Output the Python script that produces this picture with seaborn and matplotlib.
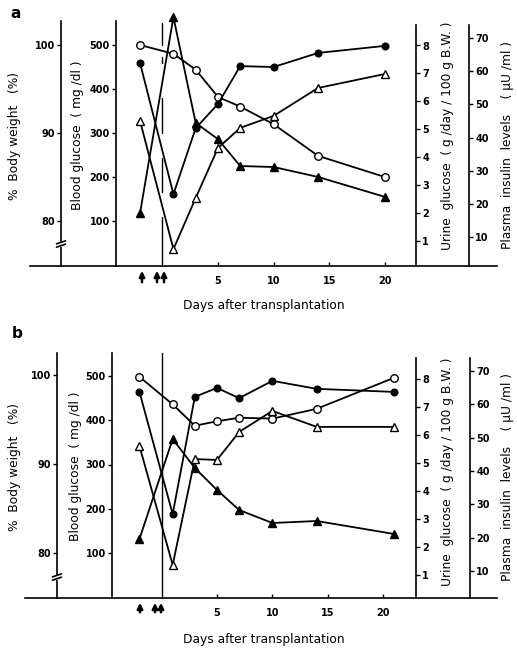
import numpy as np
import pandas as pd
import matplotlib
matplotlib.use("Agg")
import matplotlib.pyplot as plt
from matplotlib.patches import FancyArrowPatch
import seaborn as sns

sns.set_theme(style="ticks")
plt.rcParams["font.family"] = ["DejaVu Sans"]

# Days after transplantation
days_a = [-2, 1, 3, 5, 7, 10, 14, 20]
days_b = [-2, 1, 3, 5, 7, 10, 14, 21]

# Panel a
weight_a = [100.0, 99.0, 97.2, 94.1, 93.0, 91.0, 87.4, 85.0]      # % body weight (open circles)
glucose_a = [459, 161, 311, 366, 452, 450, 482, 498]               # blood glucose mg/dl (filled circles)
urine_a = [5.30, 0.71, 2.54, 4.33, 5.05, 5.48, 6.48, 6.98]         # urine glucose (open triangles)
insulin_a = [17.2, 76.3, 44.4, 39.5, 31.4, 31.1, 28.1, 22.1]       # plasma insulin (filled triangles)

# Panel b
weight_b = [99.8, 96.7, 94.3, 94.8, 95.2, 95.1, 96.2, 99.7]
glucose_b = [464, 188, 453, 473, 450, 489, 471, 464]
urine_b = [5.61, 1.36, 5.14, 5.11, 6.11, 6.86, 6.29, 6.29]
insulin_b = [19.6, 49.6, 40.9, 34.3, 28.3, 24.4, 25.0, 21.1]

x_ticks = [5, 10, 15, 20]
weight_ticks = [80, 90, 100]
glucose_ticks = [100, 200, 300, 400, 500]
urine_ticks = [1, 2, 3, 4, 5, 6, 7, 8]
insulin_ticks = [10, 20, 30, 40, 50, 60, 70]

W, H = 517, 648
fig = plt.figure(figsize=(W / 100, H / 100), dpi=100)

# pixel geometry of the two panels
geom_a = dict(left=30, right=497, top=12, bottom=266, x0=162.3, ppd=11.13,
              weight=dict(px=61, top=21, cal=(100, 45, 80, 221)),
              glucose=dict(px=116, top=21, cal=(500, 45, 100, 221)),
              urine=dict(px=416, top=25, cal=(8, 45.5, 1, 241)),
              insulin=dict(px=469, top=25, cal=(70, 38, 10, 237)),
              brk=244,
              # the day-0 line is broken up in panel a
              vsegs=[(266, 217), (192, 158), (133, 98), (63, 57), (45, 23)],
              arrows=(285, 268, [142, 157, 164]),
              xlabel_y=305, letter=("a", 16, 14),
              ylab=dict(weight=(15, 136), glucose=(77, 135), urine=(447, 136), insulin=(508, 145)))
geom_b = dict(left=25, right=497, top=345, bottom=598, x0=161.6, ppd=11.08,
              weight=dict(px=57, top=353, cal=(100, 375, 80, 553)),
              glucose=dict(px=112, top=353, cal=(500, 376, 100, 553)),
              urine=dict(px=416, top=358, cal=(8, 379, 1, 575)),
              insulin=dict(px=470, top=358, cal=(70, 371, 10, 571)),
              brk=577,
              vsegs=[(598, 353)],
              arrows=(615, 600, [140, 155, 161]),
              xlabel_y=640, letter=("b", 17, 334),
              ylab=dict(weight=(15, 467), glucose=(75, 466), urine=(447, 472), insulin=(507, 477)))

ylabels = dict(weight="%  Body weight   (%)",
               glucose="Blood glucose  ( mg /dl )",
               urine="Urine  glucose  ( g /day / 100 g B.W. )",
               insulin="Plasma  insulin  levels    ( \u03bcU /ml )")


def fig_xy(px, py):
    return px / W, 1 - py / H


def draw_panel(g, days, weight, glucose, urine, insulin):
    rect = [g["left"] / W, 1 - g["bottom"] / H,
            (g["right"] - g["left"]) / W, (g["bottom"] - g["top"]) / H]
    to_day = lambda px: (px - g["x0"]) / g["ppd"]
    xlim = (to_day(g["left"]), to_day(g["right"]))

    specs = [
        ("weight", weight, weight_ticks, "left", dict(marker="o", markersize=5.4, markerfacecolor="white")),
        ("glucose", glucose, glucose_ticks, "left", dict(marker="o", markersize=4.8, markerfacecolor="black")),
        ("urine", urine, urine_ticks, "right", dict(marker="^", markersize=5.8, markerfacecolor="white")),
        ("insulin", insulin, insulin_ticks, "right", dict(marker="^", markersize=5.8, markerfacecolor="black")),
    ]
    axes = {}
    for name, vals, ticks, side, mk in specs:
        c = g[name]
        v1, p1, v2, p2 = c["cal"]
        s = (v1 - v2) / (p2 - p1)
        val_at = (lambda v1, p1, s: (lambda p: v1 + (p1 - p) * s))(v1, p1, s)
        lo, hi = val_at(g["bottom"]), val_at(g["top"])
        ax = fig.add_axes(rect)
        ax.set_facecolor("none")
        ax.set_xlim(xlim)
        ax.set_ylim(lo, hi)
        for sp in ax.spines.values():
            sp.set_visible(False)
        sp = ax.spines[side]
        sp.set_visible(True)
        sp.set_position(("data", to_day(c["px"])))
        sp.set_bounds(lo, val_at(c["top"]))
        sp.set_linewidth(1.2)
        sp.set_color("black")
        ax.yaxis.set_ticks_position(side)
        ax.set_yticks(ticks)
        ax.tick_params(axis="y", direction="out", length=3, width=1, pad=1.5,
                       labelsize=7, colors="black")
        for lab in ax.get_yticklabels():
            lab.set_fontweight("bold")
        ax.tick_params(axis="x", bottom=False, labelbottom=False)

        df = pd.DataFrame({"day": days, "value": vals})
        sns.lineplot(data=df, x="day", y="value", ax=ax, color="black", linewidth=1.3,
                     markeredgecolor="black", markeredgewidth=1.0, clip_on=False, **mk)
        ax.set_xlabel("")
        ax.set_ylabel("")
        axes[name] = (ax, lo, val_at)

        lx, ly = g["ylab"][name]
        fx, fy = fig_xy(lx, ly)
        fig.text(fx, fy, ylabels[name], rotation=90, ha="center", va="center",
                 fontsize=8.8, color="black")

    # baseline / day axis on the blood glucose axes
    host, glo, gval = axes["glucose"]
    host.spines["bottom"].set_visible(True)
    host.spines["bottom"].set_linewidth(1.2)
    host.spines["bottom"].set_color("black")
    host.set_xticks(x_ticks)
    host.set_xticklabels([str(t) for t in x_ticks])
    host.tick_params(axis="x", bottom=True, labelbottom=True, direction="in",
                     length=3, width=1, pad=7, labelsize=7, colors="black")
    for lab in host.get_xticklabels():
        lab.set_fontweight("bold")

    # transplantation line at day 0
    for b, t in g["vsegs"]:
        host.plot([0, 0], [gval(b), gval(t)], color="black", lw=1.0, clip_on=False)

    # axis break on the body weight axis
    wax, wlo, wval = axes["weight"]
    bx = to_day(g["weight"]["px"])
    dx = 4.5 / g["ppd"]
    yb = wval(g["brk"])
    dy = wval(g["brk"] - 1.5) - yb
    wax.plot([bx, bx], [yb - 0.8 * dy, yb + 0.8 * dy], color="white", lw=2.5, clip_on=False, zorder=5)
    for off in (-1.1, 1.1):
        wax.plot([bx - dx, bx + dx], [yb + off * dy - dy, yb + off * dy + dy],
                 color="black", lw=1.2, clip_on=False, zorder=6)

    # arrows (graft timing) below the day axis
    y0, y1, xs = g["arrows"]
    for xp in xs:
        arr = FancyArrowPatch(fig_xy(xp, y0), fig_xy(xp, y1), transform=fig.transFigure,
                              arrowstyle="-|>", mutation_scale=8, lw=1.8, color="black")
        fig.add_artist(arr)

    fx, fy = fig_xy(264, g["xlabel_y"])
    fig.text(fx, fy, "Days after transplantation", ha="center", va="center",
             fontsize=8.8, color="black")
    t, lx, ly = g["letter"]
    fx, fy = fig_xy(lx, ly)
    fig.text(fx, fy, t, ha="center", va="center", fontsize=11, fontweight="bold", color="black")


draw_panel(geom_a, days_a, weight_a, glucose_a, urine_a, insulin_a)
draw_panel(geom_b, days_b, weight_b, glucose_b, urine_b, insulin_b)

fig.savefig("out.png", dpi=100, facecolor="white")
